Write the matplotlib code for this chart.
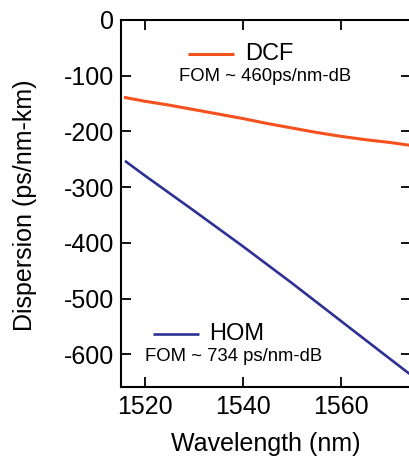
import matplotlib
matplotlib.use("Agg")
import matplotlib.pyplot as plt

plt.rcParams['font.family'] = ['Liberation Sans', 'DejaVu Sans']

# Data
wl_dcf = [1515.8, 1520, 1525, 1530, 1535, 1540, 1545, 1550, 1555, 1560, 1565, 1570, 1574]
d_dcf = [-139, -146, -153, -161, -169, -177, -186, -194, -202, -209, -215, -220, -225]
wl_hom = [1516, 1520, 1530, 1540, 1550, 1560, 1570, 1574]
d_hom = [-253, -279, -342, -406, -472, -540, -608, -635]

xticks = [1520, 1540, 1560]
yticks = [0, -100, -200, -300, -400, -500, -600]

c_dcf = '#F4511E'
c_hom = '#2E3192'

fig = plt.figure(figsize=(4.09, 4.59), dpi=100)
ax = fig.add_axes([121/409, (459-386.7)/459, (411-121)/409, (386.7-19.5)/459])

ax.plot(wl_dcf, d_dcf, color=c_dcf, lw=2.2, solid_capstyle='butt')
ax.plot(wl_hom, d_hom, color=c_hom, lw=1.9, solid_capstyle='butt')

ax.set_xlim(1515.2, 1574.3)
ax.set_ylim(-658, 0.5)
ax.set_xticks(xticks)
ax.set_yticks(yticks)
ax.set_xticklabels([str(t) for t in xticks])
ax.set_yticklabels([str(t) for t in yticks])

for s in ax.spines.values():
    s.set_linewidth(1.5)
ax.tick_params(direction='in', length=7, width=1.3, top=True, right=True,
               labelsize=18, pad=5)
ax.tick_params(axis='x', pad=6)

ax.set_xlabel('Wavelength (nm)', fontsize=18, labelpad=9)
ax.set_ylabel('Dispersion (ps/nm-km)', fontsize=18)
ax.yaxis.set_label_coords(-0.29, 0.495)

# legend-like annotations
ax.plot([1528.9, 1538.3], [-61, -61], color=c_dcf, lw=2.2, solid_capstyle='butt')
ax.text(1540.4, -61, 'DCF', fontsize=17, va='center', ha='left')
ax.text(1527.0, -101, 'FOM ~ 460ps/nm-dB', fontsize=13.3, va='center', ha='left')

ax.plot([1521.7, 1531.1], [-563, -563], color=c_hom, lw=1.9, solid_capstyle='butt')
ax.text(1533.2, -563, 'HOM', fontsize=17, va='center', ha='left')
ax.text(1520.1, -604, 'FOM ~ 734 ps/nm-dB', fontsize=13.3, va='center', ha='left')

fig.savefig('out.png', dpi=100)
